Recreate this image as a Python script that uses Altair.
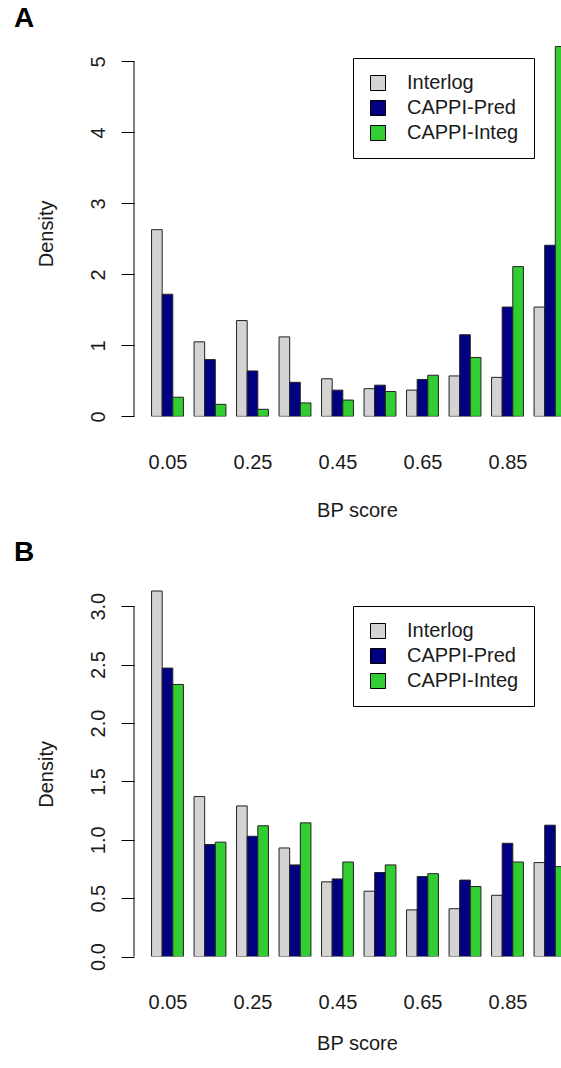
import altair as alt
import pandas as pd

# ---- data ----
scores = [0.05, 0.15, 0.25, 0.35, 0.45, 0.55, 0.65, 0.75, 0.85, 0.95]
series = ["Interlog", "CAPPI-Pred", "CAPPI-Integ"]
colors = ["#D3D3D3", "#000080", "#32CD32"]

a_interlog = [2.63, 1.05, 1.35, 1.12, 0.53, 0.39, 0.37, 0.57, 0.55, 1.54]
a_pred = [1.72, 0.80, 0.64, 0.48, 0.37, 0.44, 0.52, 1.15, 1.54, 2.41]
a_integ = [0.27, 0.17, 0.10, 0.19, 0.23, 0.35, 0.58, 0.83, 2.11, 5.21]

b_interlog = [3.13, 1.37, 1.29, 0.93, 0.64, 0.56, 0.40, 0.41, 0.525, 0.805]
b_pred = [2.47, 0.96, 1.03, 0.785, 0.665, 0.72, 0.685, 0.655, 0.97, 1.125]
b_integ = [2.33, 0.98, 1.12, 1.145, 0.81, 0.785, 0.71, 0.60, 0.81, 0.77]

x_labels = [0.05, 0.25, 0.45, 0.65, 0.85]
a_ticks = [0, 1, 2, 3, 4, 5]
b_ticks = [0.0, 0.5, 1.0, 1.5, 2.0, 2.5, 3.0]

FONT = "Liberation Sans"
TXT = "#1a1a1a"
BAR_W = 0.025          # three bars + one gap per 0.1 bin (R barplot, space=c(0,1))
X_DOMAIN = [-0.0288, 0.9759]
PLOT_W = 427


def frame(cols):
    rows = []
    for j, (name, vals) in enumerate(zip(series, cols)):
        for s, v in zip(scores, vals):
            x0 = s - 1.5 * BAR_W + j * BAR_W
            rows.append({"score": s, "series": name, "density": v,
                         "x0": x0, "x1": x0 + BAR_W})
    return pd.DataFrame(rows)


def panel(cols, letter, ymax, ticks, fmt, top_tick, legend_y, title_offset,
          ytitle_y, xtitle_y, height):
    df = frame(cols)
    bars = alt.Chart(df).mark_rect(stroke="#222222", strokeWidth=1, clip=True).encode(
        x=alt.X("x0:Q",
                scale=alt.Scale(domain=X_DOMAIN, nice=False, zero=False),
                axis=alt.Axis(values=x_labels, format=".2f", title="BP score",
                              ticks=False, tickSize=0, domain=False, grid=False,
                              labelBaseline="top", labelPadding=36,
                              labelFontSize=20, labelFont=FONT, labelColor=TXT,
                              titleFontSize=20, titleFont=FONT, titleColor=TXT,
                              titleFontWeight="normal", titleX=223, titleY=xtitle_y,
                              titleBaseline="top", titleAlign="center")),
        x2="x1:Q",
        y=alt.Y("density:Q",
                scale=alt.Scale(domain=[0, ymax], nice=False, zero=True),
                axis=alt.Axis(values=ticks, format=fmt, title="Density",
                              domain=False, grid=False, tickSize=13,
                              tickColor="black", labelAngle=270,
                              labelAlign="center", labelBaseline="bottom",
                              labelPadding=13, labelFontSize=20, labelFont=FONT,
                              labelColor=TXT, titleFontSize=20, titleFont=FONT,
                              titleColor=TXT, titleFontWeight="normal",
                              titleAngle=270, titleAlign="center",
                              titleBaseline="bottom", titleX=-77.5,
                              titleY=ytitle_y)),
        y2=alt.datum(0),
        color=alt.Color("series:N",
                        scale=alt.Scale(domain=series, range=colors),
                        sort=series,
                        legend=alt.Legend(title=None, orient="none", legendX=219,
                                          legendY=legend_y, strokeColor="black",
                                          fillColor="white", padding=15,
                                          symbolType="square", symbolSize=225,
                                          symbolStrokeColor="black",
                                          symbolStrokeWidth=1, symbolOpacity=1,
                                          labelFontSize=20, labelFont=FONT,
                                          labelColor=TXT, labelOffset=19,
                                          rowPadding=5)),
    )
    axis_line = alt.Chart(pd.DataFrame({"lo": [0]})).mark_rule(
        color="black", strokeWidth=1).encode(
        x=alt.value(0), y=alt.datum(0), y2=alt.datum(top_tick))
    return alt.layer(axis_line, bars).properties(
        width=PLOT_W, height=height,
        title=alt.TitleParams(letter, anchor="start", frame="group", fontSize=28,
                              fontWeight="bold", font=FONT, color="black",
                              dx=-120, offset=title_offset),
    )


panel_a = panel([a_interlog, a_pred, a_integ], "A", 5.4, a_ticks, "d", 5,
                25, 0, 200.4, 84.5, 383.4)
panel_b = panel([b_interlog, b_pred, b_integ], "B", 3.25, b_ticks, ".1f", 3.0,
                29, 10, 196.9, 76.5, 379.6)

chart = alt.vconcat(panel_a, panel_b, spacing=18).resolve_scale(
    color="independent").properties(
    padding={"left": 14, "top": 5, "right": 0, "bottom": 0},
    background="white",
).configure_view(strokeWidth=0)

chart.save("out.html", embed_options={"renderer": "svg", "actions": False})
